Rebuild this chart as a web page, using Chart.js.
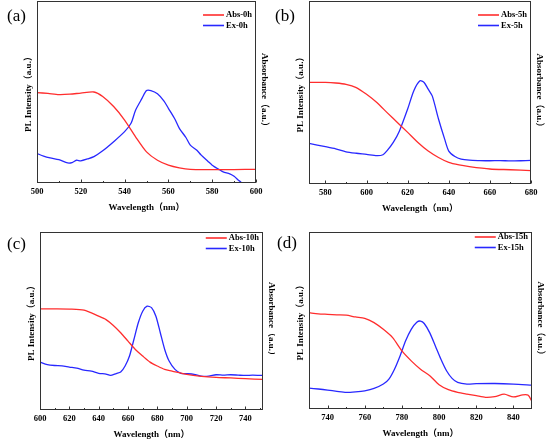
<!DOCTYPE html>
<html>
<head>
<meta charset="utf-8">
<script src="https://cdn.jsdelivr.net/npm/chart.js@4.4.1/dist/chart.umd.min.js"></script>
<style>
    body { margin: 0; background: #fff; width: 550px; height: 441px; position: relative; overflow: hidden; }
    .panel { position: absolute; overflow: hidden; }
    .tag { position: absolute; font: 17px "Liberation Serif", "Times New Roman", serif; line-height: 17px; color: #000; }
</style>
</head>
<body>
<div class="panel" style="left:0;top:0;width:275px;height:220px"><div style="width:275px;height:220px"><canvas id="chartA"></canvas></div></div>
<div class="panel" style="left:275px;top:0;width:275px;height:220px"><div style="width:275px;height:220px"><canvas id="chartB"></canvas></div></div>
<div class="panel" style="left:0;top:220px;width:275px;height:221px"><div style="width:290px;height:221px"><canvas id="chartC"></canvas></div></div>
<div class="panel" style="left:275px;top:220px;width:275px;height:221px"><div style="width:275px;height:221px"><canvas id="chartD"></canvas></div></div>
<div class="tag" style="left:7px;top:7px">(a)</div>
<div class="tag" style="left:275px;top:7px">(b)</div>
<div class="tag" style="left:7px;top:235px">(c)</div>
<div class="tag" style="left:277px;top:234px">(d)</div>

<script>
// Panel (a): 0 h
const ticksA = [500, 520, 540, 560, 580, 600];
const absWlA = [500, 505, 510, 515, 520, 526, 530, 535, 540, 545, 550, 555, 560, 565, 570, 580, 590, 600];
const absA = [0.497, 0.492, 0.486, 0.488, 0.494, 0.500, 0.475, 0.420, 0.346, 0.254, 0.171, 0.125, 0.098, 0.083, 0.075, 0.074, 0.074, 0.075];
const exWlA = [500, 503, 506, 510, 514, 516, 518, 520, 523, 526, 530, 535, 540, 543, 545, 548, 550, 552, 555, 558, 560, 563, 565, 568, 570, 573, 575, 578, 580, 583, 585, 588, 590, 592, 593, 595];
const exA = [0.162, 0.148, 0.138, 0.128, 0.110, 0.112, 0.125, 0.122, 0.132, 0.145, 0.177, 0.227, 0.282, 0.330, 0.400, 0.466, 0.508, 0.508, 0.490, 0.450, 0.410, 0.350, 0.300, 0.250, 0.208, 0.180, 0.153, 0.120, 0.098, 0.075, 0.061, 0.050, 0.037, 0.015, 0.006, -0.030];

// Panel (b): 5 h
const ticksB = [580, 600, 620, 640, 660, 680];
const absWlB = [572, 580, 585, 590, 595, 600, 605, 610, 615, 620, 625, 630, 635, 640, 645, 650, 660, 670, 680];
const absB = [0.555, 0.555, 0.552, 0.545, 0.527, 0.490, 0.445, 0.390, 0.336, 0.282, 0.227, 0.180, 0.145, 0.118, 0.104, 0.095, 0.082, 0.078, 0.073];
const exWlB = [572, 580, 585, 590, 595, 600, 605, 608, 610, 613, 616, 620, 623, 626, 628, 630, 632, 635, 638, 640, 643, 646, 650, 655, 660, 665, 670, 675, 680];
const exB = [0.222, 0.204, 0.192, 0.176, 0.168, 0.162, 0.155, 0.160, 0.182, 0.227, 0.290, 0.410, 0.510, 0.564, 0.555, 0.518, 0.480, 0.355, 0.245, 0.180, 0.150, 0.136, 0.130, 0.128, 0.127, 0.128, 0.126, 0.127, 0.129];

// Panel (c): 10 h
const ticksC = [600, 620, 640, 660, 680, 700, 720, 740];
const absWlC = [600, 610, 620, 630, 640, 645, 650, 655, 660, 665, 670, 675, 680, 685, 690, 700, 710, 720, 730, 740, 752];
const absC = [0.568, 0.568, 0.567, 0.561, 0.527, 0.508, 0.475, 0.434, 0.387, 0.340, 0.303, 0.269, 0.247, 0.228, 0.219, 0.200, 0.189, 0.183, 0.180, 0.176, 0.172];
const exWlC = [600, 605, 610, 615, 620, 625, 630, 635, 640, 645, 648, 652, 655, 658, 661, 664, 667, 670, 673, 676, 679, 682, 685, 688, 692, 696, 700, 705, 710, 715, 720, 725, 730, 735, 740, 745, 752];
const exC = [0.269, 0.255, 0.250, 0.248, 0.241, 0.235, 0.224, 0.218, 0.206, 0.202, 0.194, 0.205, 0.213, 0.247, 0.303, 0.396, 0.490, 0.555, 0.583, 0.575, 0.527, 0.434, 0.340, 0.275, 0.228, 0.206, 0.204, 0.200, 0.190, 0.190, 0.198, 0.196, 0.198, 0.196, 0.194, 0.196, 0.194];

// Panel (d): 15 h
const ticksD = [740, 760, 780, 800, 820, 840];
const absWlD = [730, 735, 740, 745, 750, 755, 760, 765, 770, 775, 780, 785, 790, 795, 800, 805, 810, 815, 820, 825, 830, 835, 840, 845, 848, 850];
const absD = [0.544, 0.538, 0.535, 0.532, 0.530, 0.520, 0.512, 0.488, 0.450, 0.403, 0.328, 0.272, 0.225, 0.188, 0.137, 0.109, 0.094, 0.084, 0.075, 0.066, 0.070, 0.084, 0.068, 0.080, 0.078, 0.041];
const exWlD = [730, 735, 740, 745, 750, 755, 760, 765, 770, 773, 776, 779, 782, 785, 788, 790, 792, 795, 798, 801, 804, 807, 810, 815, 820, 830, 840, 850];
const exD = [0.118, 0.113, 0.107, 0.100, 0.094, 0.097, 0.103, 0.116, 0.141, 0.169, 0.225, 0.300, 0.385, 0.450, 0.490, 0.497, 0.483, 0.430, 0.356, 0.281, 0.216, 0.173, 0.150, 0.141, 0.143, 0.144, 0.141, 0.135];

const SERIF = '"Liberation Serif", "Times New Roman", "Noto Sans CJK SC", serif';
const RED = 'rgb(255, 45, 45)';
const BLUE = 'rgb(40, 40, 255)';

Chart.defaults.font.family = SERIF;
Chart.defaults.color = '#000';

// box round the plot area, with small inward ticks on the bottom edge
const framePlugin = {
    id: 'frame',
    afterDatasetsDraw(chart) {
        const { ctx, chartArea: a } = chart;
        const x = chart.scales.x;
        const bottom = Math.round(a.bottom) - 0.5;
        ctx.save();
        ctx.strokeStyle = '#333';
        ctx.lineWidth = 1;
        ctx.strokeRect(Math.round(a.left) + 0.5, Math.round(a.top) + 0.5, Math.round(a.width) - 1, Math.round(a.height) - 1);
        ctx.beginPath();
        x.ticks.forEach(t => {
            const px = Math.round(x.getPixelForValue(t.value)) + 0.5;
            ctx.moveTo(px, bottom);
            ctx.lineTo(px, bottom - 3);
            const mx = Math.round(x.getPixelForValue(t.value + 10)) + 0.5;
            if (t.value + 10 < x.max) {
                ctx.moveTo(mx, bottom);
                ctx.lineTo(mx, bottom - 1.5);
            }
            const lx = Math.round(x.getPixelForValue(t.value - 10)) + 0.5;
            if (t.value - 10 > x.min && t === x.ticks[0]) {
                ctx.moveTo(lx, bottom);
                ctx.lineTo(lx, bottom - 1.5);
            }
        });
        ctx.stroke();
        ctx.restore();
    }
};

// stacked legend in the upper right corner of the plot
const cornerLegend = {
    id: 'cornerLegend',
    afterDraw(chart, args, opts) {
        const { ctx, chartArea: a } = chart;
        ctx.save();
        ctx.font = 'bold 8.5px ' + SERIF;
        const widths = chart.data.datasets.map(ds => ctx.measureText(ds.label).width);
        const textX = a.right - Math.max(...widths) - 4;
        chart.data.datasets.forEach((ds, i) => {
            const y = opts.top + i * 10.5;
            ctx.strokeStyle = ds.borderColor;
            ctx.lineWidth = 1.6;
            ctx.beginPath();
            ctx.moveTo(textX - 23, y);
            ctx.lineTo(textX - 2, y);
            ctx.stroke();
            ctx.fillStyle = '#000';
            ctx.textBaseline = 'middle';
            ctx.fillText(ds.label, textX, y);
        });
        ctx.restore();
    }
};

function toPoints(xs, ys) {
    return xs.map((x, i) => ({ x: x, y: ys[i] }));
}

function yAxis(position, text) {
    return {
        type: 'linear',
        position: position,
        min: 0,
        max: 1,
        grid: { display: false, drawTicks: false },
        border: { display: false },
        ticks: { display: false },
        title: {
            display: true,
            text: text,
            font: { size: 9, weight: 'bold' },
            padding: { top: 2, bottom: 2.5 }
        }
    };
}

function renderPanel(id, labels, tickVals, absWl, abs, exWl, ex, xMin, xMax, pad, legendTop) {
    const ctx = document.getElementById(id).getContext('2d');
    new Chart(ctx, {
        type: 'line',
        data: {
            datasets: [{
                label: labels[0],
                data: toPoints(absWl, abs),
                borderColor: RED,
                borderWidth: 1.3,
                pointRadius: 0,
                tension: 0.25,
                yAxisID: 'y2'
            }, {
                label: labels[1],
                data: toPoints(exWl, ex),
                borderColor: BLUE,
                borderWidth: 1.3,
                pointRadius: 0,
                tension: 0.25,
                yAxisID: 'y'
            }]
        },
        options: {
            responsive: true,
            maintainAspectRatio: false,
            animation: false,
            layout: { padding: pad },
            scales: {
                x: {
                    type: 'linear',
                    min: xMin,
                    max: xMax,
                    grid: { display: false, drawTicks: false },
                    border: { display: false },
                    afterBuildTicks: axis => {
                        axis.ticks = tickVals.map(v => ({ value: v }));
                    },
                    ticks: {
                        padding: 4,
                        maxRotation: 0,
                        autoSkip: false,
                        font: { size: 8.5, weight: 'bold' }
                    },
                    title: {
                        display: true,
                        text: 'Wavelength（nm）',
                        font: { size: 9, weight: 'bold' },
                        padding: { top: 1, bottom: 0 }
                    }
                },
                y: yAxis('left', 'PL Intensity（a.u.）'),
                y2: yAxis('right', 'Absorbance（a.u.）')
            },
            plugins: {
                legend: { display: false },
                tooltip: { enabled: false },
                cornerLegend: { top: legendTop }
            }
        },
        plugins: [framePlugin, cornerLegend]
    });
}

renderPanel('chartA', ['Abs-0h', 'Ex-0h'], ticksA, absWlA, absA, exWlA, exA, 500, 600,
    { left: 21.7, right: 3.7, top: 1, bottom: 7 }, 15);
renderPanel('chartB', ['Abs-5h', 'Ex-5h'], ticksB, absWlB, absB, exWlB, exB, 572, 680,
    { left: 18.7, right: 3.7, top: 1, bottom: 6 }, 15);
renderPanel('chartC', ['Abs-10h', 'Ex-10h'], ticksC, absWlC, absC, exWlC, exC, 600, 752,
    { left: 24.7, right: 11.7, top: 12, bottom: 1 }, 18);
renderPanel('chartD', ['Abs-15h', 'Ex-15h'], ticksD, absWlD, absD, exWlD, exD, 730, 850,
    { left: 18.7, right: 2.7, top: 12, bottom: 2 }, 17);
</script>
</body>
</html>
